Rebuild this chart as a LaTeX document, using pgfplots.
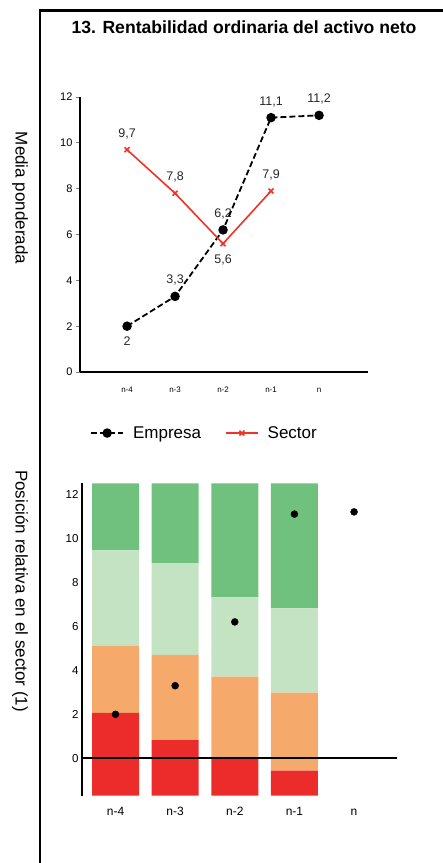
\documentclass[border=0pt]{standalone}
\usepackage{pgfplots}
\pgfplotsset{compat=1.18}
\usepackage{pgfplotstable}
\usepackage{fontspec}
\setmainfont{Liberation Sans}

\definecolor{dgreen}{RGB}{112,193,125}
\definecolor{lgreen}{RGB}{196,227,194}
\definecolor{orng}{RGB}{245,170,108}
\definecolor{rred}{RGB}{236,43,43}
\definecolor{secred}{RGB}{240,50,40}

% Top chart: weighted average
\pgfplotstableread{
x y lab
0 2 2
1 3.3 3,3
2 6.2 6,2
3 11.1 11,1
4 11.2 11,2
}\empresa

\pgfplotstableread{
x y lab
0 9.7 9,7
1 7.8 7,8
2 5.6 5,6
3 7.9 7,9
}\sector

% Bottom chart: band boundaries (b = bottom of the chart, then cumulative tops)
\pgfplotstableread{
x b r o lg top
0 -1.7 2.07 5.12 9.45 12.5
1 -1.7 0.83 4.70 8.86 12.5
2 -1.7 0.00 3.71 7.32 12.5
3 -1.7 -0.56 2.98 6.82 12.5
}\bands

\pgfplotstableread{
x y
0 2
1 3.3
2 6.2
3 11.1
4 11.2
}\posicion

\begin{document}
\begin{tikzpicture}[x=1pt,y=1pt]
\path[use as bounding box] (0,0) rectangle (443,-863);
% frame
\draw[line width=2.5pt] (40,-863) -- (40,-10.7) -- (445,-10.7);

\node[font=\fontsize{17.6}{20}\selectfont\bfseries] at (244,-27) {13. Rentabilidad ordinaria del activo neto};

\node[rotate=-90, font=\fontsize{17}{20}\selectfont] at (20,-198) {Media ponderada};
\node[rotate=-90, font=\fontsize{17}{20}\selectfont] at (20,-591) {Posición relativa en el sector (1)};

% ---------- top axis ----------
\begin{axis}[
  at={(80pt,-372pt)}, anchor=south west, scale only axis,
  width=288pt, height=275pt,
  xmin=-0.98, xmax=5.02, ymin=0, ymax=12,
  axis x line*=bottom, axis y line*=left,
  axis line style={line width=2pt},
  xtick={0,1,2,3,4}, xticklabels={n-4,n-3,n-2,n-1,n},
  xtick style={draw=none},
  ytick={0,2,...,12},
  tick align=outside, major tick length=4pt,
  ytick style={line width=1pt},
  xticklabel style={font=\fontsize{8}{9}\selectfont, anchor=base, yshift=-16pt},
  yticklabel style={font=\fontsize{11}{12}\selectfont},
  /pgf/number format/assume math mode=true,
  clip=false,
  legend columns=2,
  legend style={at={(axis description cs:0.035,-0.222)}, anchor=west, draw=none, fill=none,
    inner sep=0pt, font=\fontsize{17}{20}\selectfont,
    /tikz/every odd column/.append style={column sep=7pt},
    /tikz/every even column/.append style={column sep=22pt}},
  legend image code/.code={\draw[mark repeat=2,mark phase=2,#1] plot coordinates {(0pt,0pt) (16pt,0pt) (32pt,0pt)};},
  lbl/.style={draw=none, forget plot, nodes near coords, point meta=explicit symbolic,
    nodes near coords style={anchor=center, yshift=#1, font=\fontsize{12.5}{14}\selectfont, text=black!85}},
]
\addplot[black, line width=1.8pt, dash pattern=on 6pt off 3pt, mark=*, mark size=3.8pt, mark options={solid, fill=black}]
  table[x=x, y=y] {\empresa};
\addlegendentry{Empresa}
\addplot[secred, line width=1.6pt, mark=x, mark size=3.5pt, mark options={solid, line width=1.6pt}]
  table[x=x, y=y] {\sector};
\addlegendentry{Sector}
% value labels
\addplot[lbl=16pt] table[x=x, y=y, meta=lab] {
x y lab
1 3.3 3,3
2 6.2 6,2
3 11.1 11,1
4 11.2 11,2
};
\addplot[lbl=-15pt] table[x=x, y=y, meta=lab] {
x y lab
0 2 2
};
\addplot[lbl=16pt] table[x=x, y=y, meta=lab] {
x y lab
0 9.7 9,7
1 7.8 7,8
3 7.9 7,9
};
\addplot[lbl=-16pt] table[x=x, y=y, meta=lab] {
x y lab
2 5.6 5,6
};
\end{axis}

% ---------- bottom axis: bands (hidden axis measured from the chart bottom, -1.7) ----------
\begin{axis}[
  at={(82pt,-795.7pt)}, anchor=south west, scale only axis,
  width=315pt, height=312.4pt,
  xmin=-0.562, xmax=4.72, ymin=0, ymax=14.2,
  hide axis, ybar stacked, bar width=47pt,
]
\addplot[draw=none, fill=rred] table[x=x, y expr=\thisrow{r}-\thisrow{b}] {\bands};
\addplot[draw=none, fill=orng] table[x=x, y expr=\thisrow{o}-\thisrow{r}] {\bands};
\addplot[draw=none, fill=lgreen] table[x=x, y expr=\thisrow{lg}-\thisrow{o}] {\bands};
\addplot[draw=none, fill=dgreen] table[x=x, y expr=\thisrow{top}-\thisrow{lg}] {\bands};
\end{axis}

% ---------- bottom axis: axes and points ----------
\begin{axis}[
  at={(82pt,-795.7pt)}, anchor=south west, scale only axis,
  width=315pt, height=312.4pt,
  xmin=-0.562, xmax=4.72, ymin=-1.7, ymax=12.5,
  axis x line*=bottom, axis y line*=left,
  x axis line style={draw=none},
  y axis line style={line width=2.2pt},
  xtick={0,1,2,3,4}, xticklabels={n-4,n-3,n-2,n-1,n},
  ytick={0,2,...,12},
  major tick length=0pt,
  xticklabel style={font=\fontsize{12}{13}\selectfont, anchor=base, yshift=-20pt},
  yticklabel style={font=\fontsize{11.5}{12}\selectfont},
  /pgf/number format/assume math mode=true,
  clip=false,
]
\addplot[black, line width=2pt, forget plot] coordinates {(-0.562,0) (4.72,0)};
\addplot[only marks, mark=*, mark size=3.5pt, black] table[x=x, y=y] {\posicion};
\end{axis}
\end{tikzpicture}
\end{document}
